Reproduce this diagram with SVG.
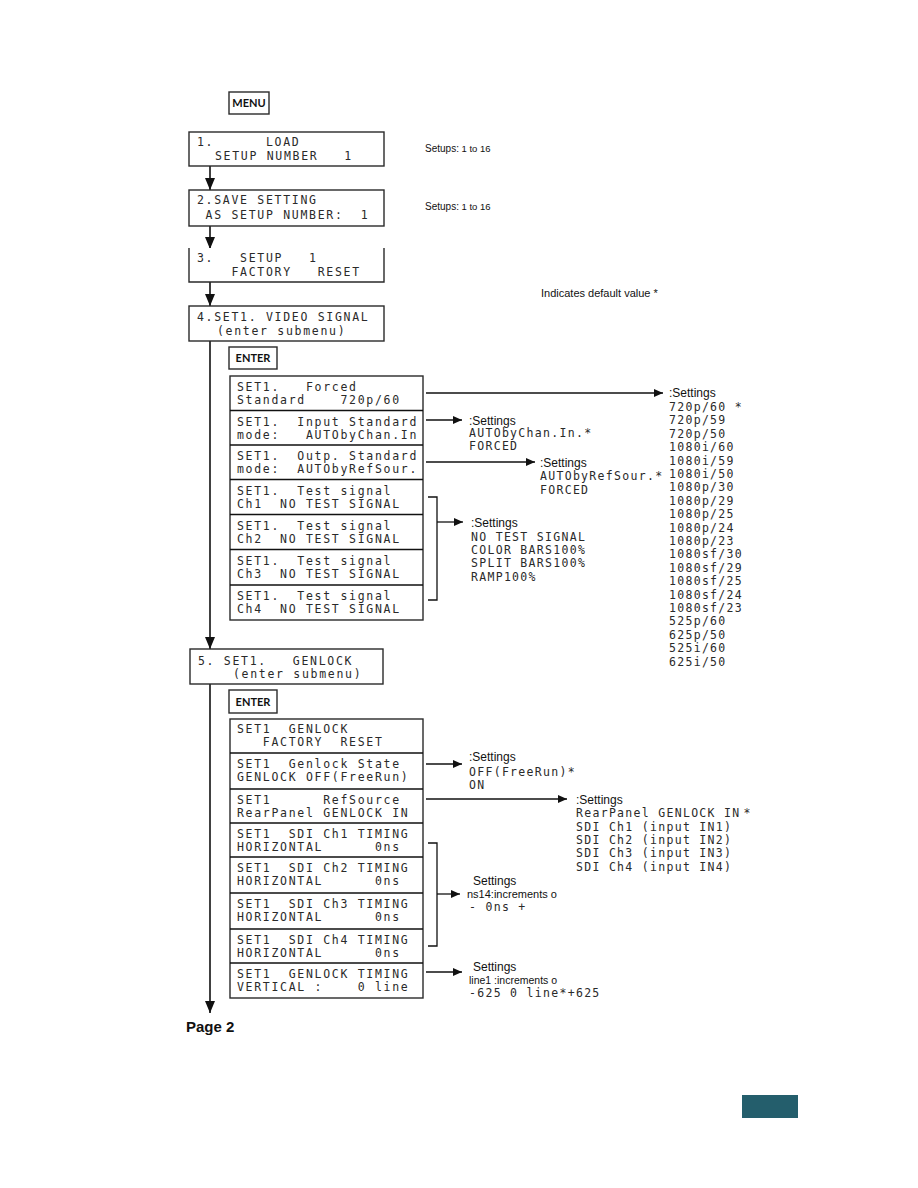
<svg xmlns="http://www.w3.org/2000/svg" width="918" height="1188" viewBox="0 0 918 1188">
<style>
text{white-space:pre}
.bx{fill:#fff;stroke:#2a2a2a;stroke-width:1.4}
.ln{stroke:#111;stroke-width:1.6;fill:none}
.ln2{stroke:#111;stroke-width:1.3;fill:none}
.lcd{font-family:"DejaVu Sans Mono","Liberation Mono",monospace;font-size:11.5px;letter-spacing:1.7px;fill:#2a2a2a}
.lst{font-family:"DejaVu Sans Mono","Liberation Mono",monospace;font-size:11.5px;letter-spacing:1.3px;fill:#2a2a2a}
.sans{font-family:"Liberation Sans",Arial,sans-serif;fill:#111}
.btn{font-family:Lato,"Liberation Sans",sans-serif;font-weight:bold;font-size:11px;fill:#111}
</style>
<defs>
<marker id="big" viewBox="0 0 12 10" refX="12" refY="5" markerWidth="12" markerHeight="10" markerUnits="userSpaceOnUse" orient="auto"><path d="M0,0L12,5L0,10z" fill="#111"/></marker>
<marker id="sm" viewBox="0 0 9 8" refX="9" refY="4" markerWidth="9" markerHeight="8" markerUnits="userSpaceOnUse" orient="auto"><path d="M0,0L9,4L0,8z" fill="#111"/></marker>
</defs>
<rect width="918" height="1188" fill="#fff"/>

<g id="connectors">
<line class="ln" x1="210" y1="166" x2="210" y2="190" marker-end="url(#big)"/>
<line class="ln" x1="210" y1="226" x2="210" y2="249" marker-end="url(#big)"/>
<line class="ln" x1="210" y1="282" x2="210" y2="306" marker-end="url(#big)"/>
<line class="ln" x1="210" y1="341" x2="210" y2="649" marker-end="url(#big)"/>
<line class="ln" x1="210" y1="684" x2="210" y2="1013" marker-end="url(#big)"/>
<line class="ln2" x1="426" y1="393" x2="663" y2="393" marker-end="url(#sm)"/>
<line class="ln2" x1="426" y1="420" x2="462" y2="420" marker-end="url(#sm)"/>
<line class="ln2" x1="426" y1="462" x2="535" y2="462" marker-end="url(#sm)"/>
<path class="ln2" d="M428,497H437V600H428"/>
<line class="ln2" x1="437" y1="522" x2="463" y2="522" marker-end="url(#sm)"/>
<line class="ln2" x1="426" y1="764" x2="462" y2="764" marker-end="url(#sm)"/>
<line class="ln2" x1="426" y1="799" x2="567" y2="799" marker-end="url(#sm)"/>
<path class="ln2" d="M428,843H437V946H428"/>
<line class="ln2" x1="437" y1="894" x2="460" y2="894" marker-end="url(#sm)"/>
<line class="ln2" x1="426" y1="972" x2="462" y2="972" marker-end="url(#sm)"/>
</g>

<g id="menu"><rect class="bx" x="229" y="92" width="40" height="22"/><text class="btn" x="249" y="107" text-anchor="middle">MENU</text></g>

<g id="n1"><rect class="bx" x="189" y="132" width="195" height="34"/>
<text xml:space="preserve" class="lcd" x="197" y="146">1.      LOAD</text>
<text xml:space="preserve" class="lcd" x="215" y="160">SETUP NUMBER   1</text></g>
<text class="sans" x="425" y="152" font-size="10">Setups:<tspan font-size="9.5"> 1 to 16</tspan></text>

<g id="n2"><rect class="bx" x="189" y="190" width="195" height="36"/>
<text xml:space="preserve" class="lcd" x="197" y="204">2.SAVE SETTING</text>
<text xml:space="preserve" class="lcd" x="197" y="219"> AS SETUP NUMBER:  1</text></g>
<text class="sans" x="425" y="210" font-size="10">Setups:<tspan font-size="9.5"> 1 to 16</tspan></text>

<g id="n3"><path class="bx" d="M189,248V282H384V248"/>
<text xml:space="preserve" class="lcd" x="197" y="262">3.   SETUP   1</text>
<text xml:space="preserve" class="lcd" x="197" y="276">    FACTORY   RESET</text></g>

<text class="sans" x="541" y="297" font-size="11">Indicates default value *</text>

<g id="n4"><rect class="bx" x="189" y="306" width="195" height="35"/>
<text xml:space="preserve" class="lcd" x="197" y="321">4.SET1. VIDEO SIGNAL</text>
<text xml:space="preserve" class="lcd" x="217" y="335">(enter submenu)</text></g>

<g id="enter1"><rect class="bx" x="229" y="347" width="48" height="22"/><text class="btn" x="253" y="362" text-anchor="middle">ENTER</text></g>

<g id="video-sub">
<rect class="bx" x="230" y="376" width="193" height="244"/>
<path class="ln2" d="M230,410.5H423M230,445H423M230,479.5H423M230,514.5H423M230,549.5H423M230,585H423"/>
<text xml:space="preserve" class="lcd" x="237" y="391">SET1.   Forced</text>
<text xml:space="preserve" class="lcd" x="237" y="404">Standard    720p/60</text>
<text xml:space="preserve" class="lcd" x="237" y="425.5">SET1.  Input Standard</text>
<text xml:space="preserve" class="lcd" x="237" y="438.5">mode:   AUTObyChan.In</text>
<text xml:space="preserve" class="lcd" x="237" y="460">SET1.  Outp. Standard</text>
<text xml:space="preserve" class="lcd" x="237" y="473">mode:  AUTObyRefSour.</text>
<text xml:space="preserve" class="lcd" x="237" y="494.5">SET1.  Test signal</text>
<text xml:space="preserve" class="lcd" x="237" y="507.5">Ch1  NO TEST SIGNAL</text>
<text xml:space="preserve" class="lcd" x="237" y="529.5">SET1.  Test signal</text>
<text xml:space="preserve" class="lcd" x="237" y="542.5">Ch2  NO TEST SIGNAL</text>
<text xml:space="preserve" class="lcd" x="237" y="564.5">SET1.  Test signal</text>
<text xml:space="preserve" class="lcd" x="237" y="577.5">Ch3  NO TEST SIGNAL</text>
<text xml:space="preserve" class="lcd" x="237" y="600">SET1.  Test signal</text>
<text xml:space="preserve" class="lcd" x="237" y="613">Ch4  NO TEST SIGNAL</text>
</g>

<g id="std-settings">
<text class="sans" x="669" y="397" font-size="12">:Settings</text>
<text xml:space="preserve" class="lst" x="669" y="411">720p/60 *</text>
<text class="lst" x="669" y="424.4">720p/59</text>
<text class="lst" x="669" y="437.8">720p/50</text>
<text class="lst" x="669" y="451.2">1080i/60</text>
<text class="lst" x="669" y="464.6">1080i/59</text>
<text class="lst" x="669" y="478">1080i/50</text>
<text class="lst" x="669" y="491.4">1080p/30</text>
<text class="lst" x="669" y="504.8">1080p/29</text>
<text class="lst" x="669" y="518.2">1080p/25</text>
<text class="lst" x="669" y="531.6">1080p/24</text>
<text class="lst" x="669" y="545">1080p/23</text>
<text class="lst" x="669" y="558.4">1080sf/30</text>
<text class="lst" x="669" y="571.8">1080sf/29</text>
<text class="lst" x="669" y="585.2">1080sf/25</text>
<text class="lst" x="669" y="598.6">1080sf/24</text>
<text class="lst" x="669" y="612">1080sf/23</text>
<text class="lst" x="669" y="625.4">525p/60</text>
<text class="lst" x="669" y="638.8">625p/50</text>
<text class="lst" x="669" y="652.2">525i/60</text>
<text class="lst" x="669" y="665.6">625i/50</text>
</g>

<g id="in-settings">
<text class="sans" x="469" y="425" font-size="12">:Settings</text>
<text class="lst" x="469" y="437">AUTObyChan.In.*</text>
<text class="lst" x="469" y="450">FORCED</text>
</g>
<g id="out-settings">
<text class="sans" x="540" y="467" font-size="12">:Settings</text>
<text class="lst" x="540" y="480">AUTObyRefSour.*</text>
<text class="lst" x="540" y="494">FORCED</text>
</g>
<g id="test-settings">
<text class="sans" x="471" y="527" font-size="12">:Settings</text>
<text class="lst" x="471" y="541">NO TEST SIGNAL</text>
<text class="lst" x="471" y="554">COLOR BARS100%</text>
<text class="lst" x="471" y="567">SPLIT BARS100%</text>
<text class="lst" x="471" y="581">RAMP100%</text>
</g>

<g id="n5"><rect class="bx" x="190" y="649" width="193" height="35"/>
<text xml:space="preserve" class="lcd" x="198" y="665">5. SET1.   GENLOCK</text>
<text xml:space="preserve" class="lcd" x="233" y="678">(enter submenu)</text></g>

<g id="enter2"><rect class="bx" x="229" y="690" width="48" height="23"/><text class="btn" x="253" y="705.5" text-anchor="middle">ENTER</text></g>

<g id="genlock-sub">
<rect class="bx" x="230" y="719" width="193" height="279"/>
<path class="ln2" d="M230,753H423M230,789H423M230,823H423M230,857H423M230,893H423M230,929H423M230,963H423"/>
<text xml:space="preserve" class="lcd" x="237" y="733">SET1  GENLOCK</text>
<text xml:space="preserve" class="lcd" x="237" y="746">   FACTORY  RESET</text>
<text xml:space="preserve" class="lcd" x="237" y="767.5">SET1  Genlock State</text>
<text xml:space="preserve" class="lcd" x="237" y="781">GENLOCK OFF(FreeRun)</text>
<text xml:space="preserve" class="lcd" x="237" y="803.5">SET1      RefSource</text>
<text xml:space="preserve" class="lcd" x="237" y="817">RearPanel GENLOCK IN</text>
<text xml:space="preserve" class="lcd" x="237" y="837.5">SET1  SDI Ch1 TIMING</text>
<text xml:space="preserve" class="lcd" x="237" y="851">HORIZONTAL      0ns</text>
<text xml:space="preserve" class="lcd" x="237" y="871.5">SET1  SDI Ch2 TIMING</text>
<text xml:space="preserve" class="lcd" x="237" y="885">HORIZONTAL      0ns</text>
<text xml:space="preserve" class="lcd" x="237" y="907.5">SET1  SDI Ch3 TIMING</text>
<text xml:space="preserve" class="lcd" x="237" y="921">HORIZONTAL      0ns</text>
<text xml:space="preserve" class="lcd" x="237" y="943.5">SET1  SDI Ch4 TIMING</text>
<text xml:space="preserve" class="lcd" x="237" y="957">HORIZONTAL      0ns</text>
<text xml:space="preserve" class="lcd" x="237" y="977.5">SET1  GENLOCK TIMING</text>
<text xml:space="preserve" class="lcd" x="237" y="991">VERTICAL :    0 line</text>
</g>

<g id="state-settings">
<text class="sans" x="469" y="761" font-size="12">:Settings</text>
<text class="lst" x="469" y="776">OFF(FreeRun)*</text>
<text class="lst" x="469" y="789">ON</text>
</g>
<g id="ref-settings">
<text class="sans" x="576" y="804" font-size="12">:Settings</text>
<text class="lst" x="576" y="817">RearPanel GENLOCK IN<tspan dx="3">*</tspan></text>
<text class="lst" x="576" y="831">SDI Ch1 (input IN1)</text>
<text class="lst" x="576" y="844">SDI Ch2 (input IN2)</text>
<text class="lst" x="576" y="857">SDI Ch3 (input IN3)</text>
<text class="lst" x="576" y="871">SDI Ch4 (input IN4)</text>
</g>
<g id="hor-settings">
<text class="sans" x="473" y="885" font-size="12">Settings</text>
<text class="sans" x="467" y="898" font-size="11">ns14:increments o</text>
<text class="lst" x="469" y="911">- 0ns +</text>
</g>
<g id="vert-settings">
<text class="sans" x="473" y="971" font-size="12">Settings</text>
<text class="sans" x="469" y="984" font-size="10.5">line1 :increments o</text>
<text class="lst" x="469" y="997">-625 0 line*+625</text>
</g>

<text class="sans" x="186" y="1032" font-size="15" font-weight="bold">Page 2</text>
<rect x="742" y="1095" width="56" height="23" fill="#245e6c"/>
</svg>
